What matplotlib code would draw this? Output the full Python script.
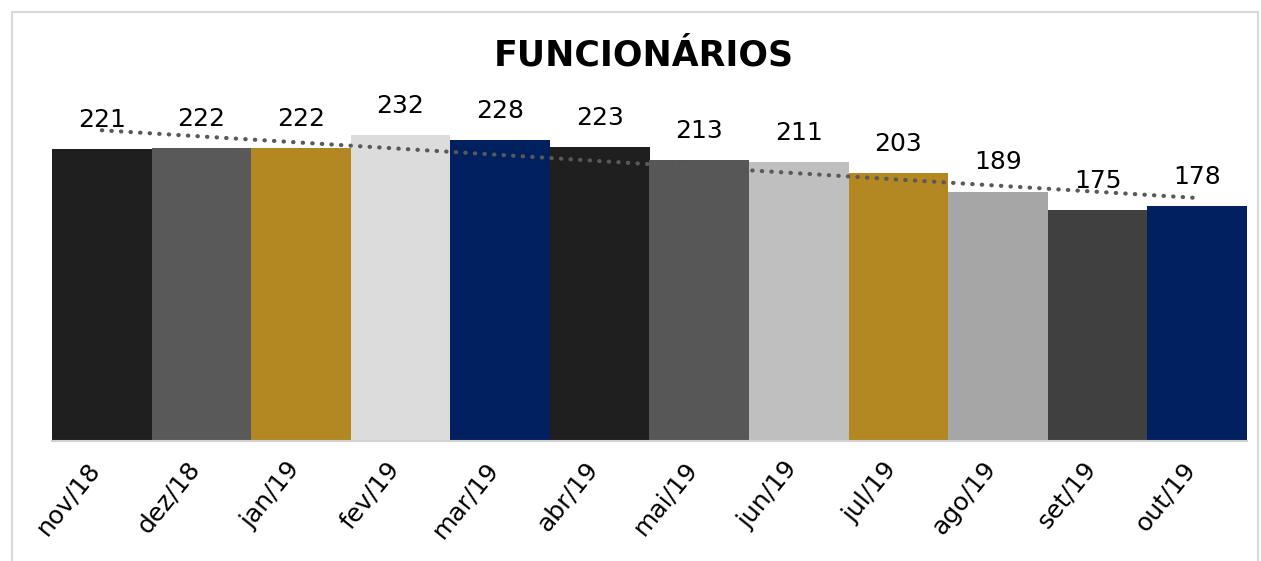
import numpy as np
import matplotlib
matplotlib.use('Agg')
import matplotlib.pyplot as plt
from matplotlib.patches import Rectangle

# Data
months = ['nov/18', 'dez/18', 'jan/19', 'fev/19', 'mar/19', 'abr/19',
          'mai/19', 'jun/19', 'jul/19', 'ago/19', 'set/19', 'out/19']
employees = [221, 222, 222, 232, 228, 223, 213, 211, 203, 189, 175, 178]
bar_colors = ['#1f1f1f', '#595959', '#b38822', '#dcdcdc', '#002060', '#1f1f1f',
              '#575757', '#bfbfbf', '#b38822', '#a6a6a6', '#404040', '#002060']

W, H = 1261, 561
fig = plt.figure(figsize=(W / 100, H / 100), dpi=100)

# light chart border
fig.patches.append(Rectangle((12 / W, -0.05), (1258 - 12) / W, 1.05 - 12 / H,
                             transform=fig.transFigure, fill=False,
                             edgecolor='#d9d9d9', linewidth=1.5))

# axes placed so that y=0 sits at pixel row 441
ax = fig.add_axes([52 / W, (H - 441) / H, (1247 - 52) / W, 333.3 / H])
x = np.arange(len(months))
ax.bar(x, employees, width=1.0, color=bar_colors, linewidth=0)
ax.set_xlim(-0.5, len(months) - 0.5)
ax.set_ylim(0, 252.5)

# linear trendline (dotted)
coef = np.polyfit(x, employees, 1)
ax.plot(x, np.polyval(coef, x), linestyle=(0, (0.1, 2.2)), color='#595959',
        linewidth=3, dash_capstyle='round', clip_on=False, zorder=3)

# value labels
for xi, v in zip(x, employees):
    ax.text(xi, v + 22, str(v), ha='center', va='center', fontsize=18,
            color='black', clip_on=False, zorder=4)

for side in ['left', 'right', 'top']:
    ax.spines[side].set_visible(False)
ax.spines['bottom'].set_color('#d0d0d0')
ax.spines['bottom'].set_linewidth(1.5)
ax.set_yticks([])
ax.set_xticks(x - 0.06)
ax.set_xticklabels(months, rotation=51, ha='right', va='center',
                   rotation_mode='anchor', fontsize=18)
ax.tick_params(axis='x', length=0, pad=17)

fig.text(644 / W, 1 - 56 / H, 'FUNCIONÁRIOS', ha='center', va='center',
         fontsize=25, fontweight='bold')

fig.savefig('out.png', dpi=100)
